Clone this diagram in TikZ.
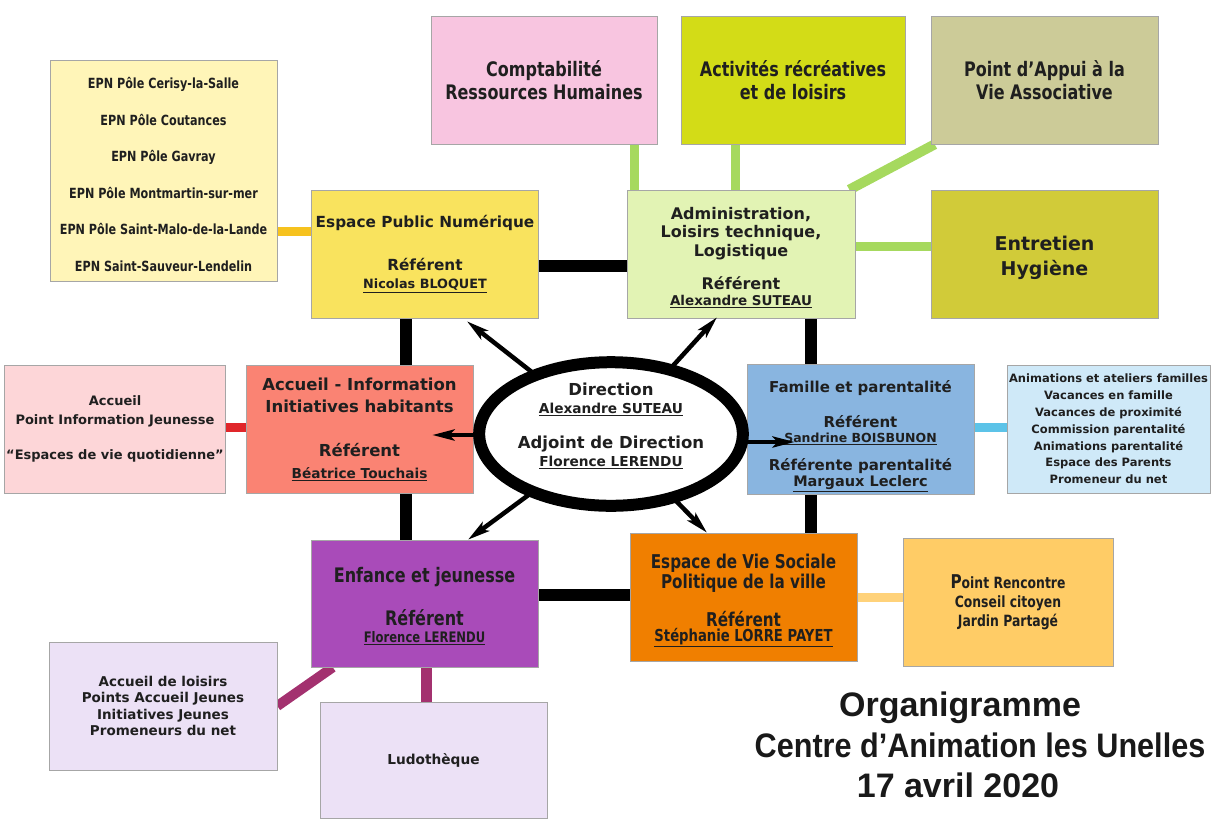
\documentclass[tikz,border=0pt]{standalone}
\usepackage{fontspec}
\setmainfont{DejaVu Sans}
\newfontfamily\cond[FakeStretch=0.8]{DejaVu Sans}
\newfontfamily\titlef{Liberation Sans}
\newfontfamily\titlec[FakeStretch=0.9]{Liberation Sans}
\usetikzlibrary{arrows.meta,shapes.geometric,backgrounds}
\newcommand\fsz[2]{\fontsize{#1}{#2}\selectfont}
\newcommand\tall[1]{\rule{0pt}{#1}}
\definecolor{cEpnList}{HTML}{FFF5B8}
\definecolor{cEpn}{HTML}{F9E35E}
\definecolor{cAdmin}{HTML}{E2F3B4}
\definecolor{cCompta}{HTML}{F8C5E0}
\definecolor{cActiv}{HTML}{D3DC17}
\definecolor{cAppui}{HTML}{CCCB98}
\definecolor{cEntr}{HTML}{D1CB39}
\definecolor{cAccI}{HTML}{FA8373}
\definecolor{cAccL}{HTML}{FDD6D8}
\definecolor{cFam}{HTML}{89B5E0}
\definecolor{cFamR}{HTML}{CFE9F8}
\definecolor{cEnf}{HTML}{A94BB9}
\definecolor{cEvs}{HTML}{F07F00}
\definecolor{cPtR}{HTML}{FFCC66}
\definecolor{cLila}{HTML}{ECE1F6}
\definecolor{lGreen}{HTML}{A6D95E}
\definecolor{lRed}{HTML}{E0262A}
\definecolor{lBlue}{HTML}{5CC3E8}
\definecolor{lOrange}{HTML}{FFD27A}
\definecolor{lYellow}{HTML}{F6C21E}
\definecolor{lPurple}{HTML}{A3316F}
\tikzset{
  box/.style={draw=black!35, line width=0.6pt, inner sep=2pt, align=center, text=black!88},
  bigbox/.style={box, minimum width=227pt, minimum height=128pt},
  blk/.style={line width=12pt, black},
  conn/.style={line width=9pt},
  arr/.style={line width=4.5pt, black, -{Stealth[length=22pt,width=11pt,inset=5pt]}},
  ttl/.style={text=black!90},
}
\newcommand\nm[1]{\underline{#1}}
\begin{document}
\begin{tikzpicture}[x=1pt,y=-1pt]
\useasboundingbox (0,0) rectangle (1216,823);

% boxes
\node[box, minimum width=227pt, minimum height=221pt, fill=cEpnList, font=\cond\bfseries\fsz{14}{36.5}] (epnlist) at (163.5,170.5)
 {\tall{19pt}EPN Pôle Cerisy-la-Salle\\EPN Pôle Coutances\\EPN Pôle Gavray\\EPN Pôle Montmartin-sur-mer\\EPN Pôle Saint-Malo-de-la-Lande\\EPN Saint-Sauveur-Lendelin};
\node[bigbox, fill=cEpn, font=\bfseries\fsz{15.3}{18}] (epn) at (425,254)
 {Espace Public Numérique\\[25pt]Référent\\\fsz{12.8}{15}\nm{Nicolas BLOQUET}};
\node[bigbox, minimum width=228pt, fill=cAdmin, font=\bfseries\fsz{16}{18.5}] (admin) at (741,254)
 {\tall{19pt}Administration,\\Loisirs technique,\\Logistique\\[15pt]Référent\\[-3pt]\fsz{13.5}{15}\nm{Alexandre SUTEAU}};
\node[bigbox, minimum width=226pt, fill=cCompta, font=\cond\bfseries\fsz{20}{23}] (compta) at (544,80) {Comptabilité\\Ressources Humaines};
\node[bigbox, minimum width=224pt, fill=cActiv, font=\cond\bfseries\fsz{20}{23}] (activ) at (793,80) {Activités récréatives\\et de loisirs};
\node[bigbox, fill=cAppui, font=\cond\bfseries\fsz{20}{23}] (appui) at (1044.5,80) {Point d’Appui à la\\Vie Associative};
\node[bigbox, fill=cEntr, font=\bfseries\fsz{19}{25}] (entr) at (1044.5,254) {\tall{22.5pt}Entretien\\Hygiène};
\node[bigbox, minimum width=214pt, fill=cAccL, font=\bfseries\fsz{13}{19}] (accL) at (115,429)
 {Accueil\\Point Information Jeunesse\\[16pt]“Espaces de vie quotidienne”};
\node[bigbox, fill=cAccI, font=\bfseries\fsz{16.5}{22}] (accI) at (359.5,429)
 {Accueil - Information\\Initiatives habitants\\[22pt]Référent\\\fsz{13.7}{16}\nm{Béatrice Touchais}};
\node[bigbox, fill=cFam, font=\bfseries\fsz{15}{17.5}] (fam) at (860.5,429)
 {\tall{26.5pt}Famille et parentalité\\[17pt]Référent\\[-2pt]\fsz{12.5}{15}\nm{Sandrine BOISBUNON}\\[10pt]Référente parentalité\\[-1pt]\fsz{14.5}{17}\nm{Margaux Leclerc}};
\node[bigbox, minimum width=203pt, fill=cFamR, font=\bfseries\fsz{11.5}{16.8}] (famR) at (1108.5,429)
 {Animations et ateliers familles\\Vacances en famille\\Vacances de proximité\\Commission parentalité\\Animations parentalité\\Espace des Parents\\Promeneur du net};
\node[bigbox, minimum height=127pt, fill=cEnf, font=\cond\bfseries\fsz{20}{22}] (enf) at (424.5,603.5)
 {\tall{20pt}Enfance et jeunesse\\[21pt]Référent\\[-5pt]\fsz{14.5}{17}\nm{Florence LERENDU}};
\node[bigbox, fill=cEvs, font=\cond\bfseries\fsz{19}{20}] (evs) at (743.5,597)
 {\tall{20.5pt}Espace de Vie Sociale\\Politique de la ville\\[18pt]Référent\\[-5pt]\fsz{16.5}{17}\nm{Stéphanie LORRE PAYET}};
\node[bigbox, minimum width=210pt, fill=cPtR, font=\cond\bfseries\fsz{15.5}{19}] (ptr) at (1008,602)
 {{\fsz{19}{19}P}oint Rencontre\\Conseil citoyen\\Jardin Partagé};
\node[bigbox, minimum width=228pt, fill=cLila, font=\bfseries\fsz{13.5}{16.5}] (lois) at (163,706)
 {Accueil de loisirs\\Points Accueil Jeunes\\Initiatives Jeunes\\Promeneurs du net};
\node[bigbox, minimum height=116pt, fill=cLila, font=\bfseries\fsz{13.7}{15}] (ludo) at (433.5,760) {Ludothèque};

% connectors behind boxes
\begin{scope}[on background layer]
\draw[blk] ([yshift=-12pt]epn.east) -- ([yshift=-12pt]admin.west);
\draw[blk] ([xshift=-19pt]epn.south) -- ([xshift=-19pt]epn.south |- enf.north);
\draw[blk] ([xshift=70pt]admin.south) -- ([xshift=70pt]admin.south |- evs.north);
\draw[blk] ([yshift=8.5pt]enf.east) -- ([yshift=8.5pt]enf.east -| evs.west);
\draw[conn, lYellow] ([yshift=23pt]epn.west) -- ([yshift=23pt]epn.west -| epnlist.east);
\draw[conn, lGreen] ([xshift=90pt]compta.south) -- ([xshift=90pt]compta.south |- admin.north);
\draw[conn, lGreen] ([xshift=-58pt]activ.south) -- ([xshift=-58pt]activ.south |- admin.north);
\draw[conn, lGreen, line width=10pt] ([xshift=4pt]appui.south west) -- ([xshift=-6pt]admin.north east);
\draw[conn, lGreen] ([yshift=8pt]admin.east) -- ([yshift=8pt]admin.east -| entr.west);
\draw[conn, lRed] ([yshift=2pt]accL.east) -- ([yshift=2pt]accL.east -| accI.west);
\draw[conn, lBlue] ([yshift=2pt]fam.east) -- ([yshift=2pt]fam.east -| famR.west);
\draw[conn, lOrange] (evs.east) -- (evs.east -| ptr.west);
\draw[conn, lPurple, line width=10pt] ([xshift=22pt]enf.south west) -- (lois.east);
\draw[conn, lPurple, line width=11pt] ([xshift=2pt]enf.south) -- ([xshift=2pt]enf.south |- ludo.north);
\end{scope}

% arrows from direction
\coordinate (dc) at (611,434);
\draw[arr] (dc) -- ([xshift=42pt,yshift=-3pt]epn.south);
\draw[arr] (dc) -- ([xshift=-24pt,yshift=1pt]admin.south);
\draw[arr] ([yshift=-1pt]dc) -- ([xshift=-41pt,yshift=-6pt]accI.east);
\draw[arr] ([yshift=-8pt]dc) -- ([xshift=48pt,yshift=-13pt]fam.west);
\draw[arr] (dc) -- ([xshift=43.5pt]enf.north);
\draw[arr] (dc) -- ([xshift=-36.5pt]evs.north);

\node[ellipse, draw=black, line width=12pt, fill=white, minimum width=230pt, minimum height=136pt, inner sep=0pt, align=center, text=black!88, font=\bfseries\fsz{16.5}{18}] (dir) at (dc)
 {Direction\\\fsz{13.7}{16}\nm{Alexandre SUTEAU}\\[17pt]Adjoint de Direction\\\fsz{13.7}{16}\nm{Florence LERENDU}\\[0pt]\mbox{}};

% title
\node[ttl, font=\titlef\bfseries\fsz{34}{36}] (t1) at (960,708) {Organigramme};
\node[ttl, font=\titlec\bfseries\fsz{34}{36}] (t2) at (980,745) {Centre d’Animation les Unelles};
\node[ttl, font=\titlef\bfseries\fsz{34}{36}] (t3) at (958,785) {17 avril 2020};
\end{tikzpicture}
\end{document}
